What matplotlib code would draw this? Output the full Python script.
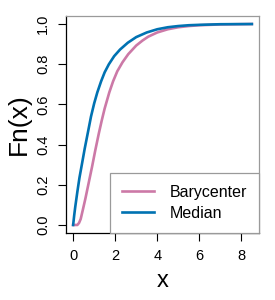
import matplotlib
matplotlib.use("Agg")
import matplotlib.pyplot as plt

bary_x = [0, 0.2, 0.28, 0.36, 0.46, 0.58, 0.7, 0.8, 0.9, 1.05, 1.22, 1.36, 1.5, 1.72, 1.9,
          2.1, 2.35, 2.62, 3.0, 3.3, 3.57, 4.0, 4.5, 5.0, 5.5, 6.0, 7.0, 8.5]
bary_y = [0, 0.0, 0.01, 0.03, 0.075, 0.13, 0.19, 0.24, 0.29, 0.37, 0.455, 0.52, 0.58, 0.66, 0.715,
          0.765, 0.81, 0.85, 0.893, 0.918, 0.937, 0.958, 0.974, 0.984, 0.99, 0.994, 0.998, 1.0]

med_x = [0, 0.05, 0.1, 0.2, 0.3, 0.43, 0.55, 0.71, 0.85, 1.0, 1.15, 1.33, 1.5, 1.7, 1.95, 2.23,
         2.6, 3.0, 3.5, 4.0, 4.5, 5.0, 5.5, 6.0, 7.0, 8.5]
med_y = [0, 0.048, 0.09, 0.165, 0.235, 0.31, 0.38, 0.465, 0.54, 0.605, 0.66, 0.715, 0.76, 0.80, 0.84, 0.873,
         0.907, 0.935, 0.958, 0.974, 0.984, 0.99, 0.994, 0.996, 0.999, 1.0]

series_names = ["Barycenter", "Median"]
series_colors = ["#CC79A7", "#0072B2"]
x_ticks = [0, 2, 4, 6, 8]
y_ticks = [0.0, 0.2, 0.4, 0.6, 0.8, 1.0]

plt.rcParams['font.family'] = ['Liberation Sans', 'DejaVu Sans']

fig = plt.figure(figsize=(2.75, 3.0), dpi=100)
ax = fig.add_axes([66/275, 1-233/300, (259-66)/275, (233-16)/300])

ax.plot(bary_x, bary_y, color=series_colors[0], lw=1.9, label=series_names[0])
ax.plot(med_x, med_y, color=series_colors[1], lw=1.9, label=series_names[1])

ax.set_xlim(-0.34, 8.84)
ax.set_ylim(-0.04, 1.04)
ax.set_xticks(x_ticks)
ax.set_xticklabels([str(v) for v in x_ticks], fontsize=10.5)
ax.set_yticks(y_ticks)
ax.set_yticklabels([f"{v:.1f}" for v in y_ticks], fontsize=10.5, rotation=90, va='center')
ax.tick_params(axis='both', direction='out', length=5.8, width=0.8, color='black')
ax.tick_params(axis='x', pad=6)
ax.tick_params(axis='y', pad=5.5)

for s in ['top', 'right']:
    ax.spines[s].set_color('#9a9a9a')
for s in ['left', 'bottom']:
    ax.spines[s].set_color('black')
for s in ax.spines.values():
    s.set_linewidth(0.9)

ax.set_xlabel("x", fontsize=17, labelpad=5)
ax.set_ylabel("Fn(x)", fontsize=19, labelpad=4)

leg = ax.legend(loc='lower right', fontsize=11.5, frameon=True, fancybox=False,
                borderaxespad=0, handlelength=2.0, handletextpad=1.0,
                borderpad=0.75, labelspacing=0.4, edgecolor='#9a9a9a')
leg.get_frame().set_linewidth(0.9)
leg.get_frame().set_alpha(1)

fig.savefig("out.png", dpi=100)
